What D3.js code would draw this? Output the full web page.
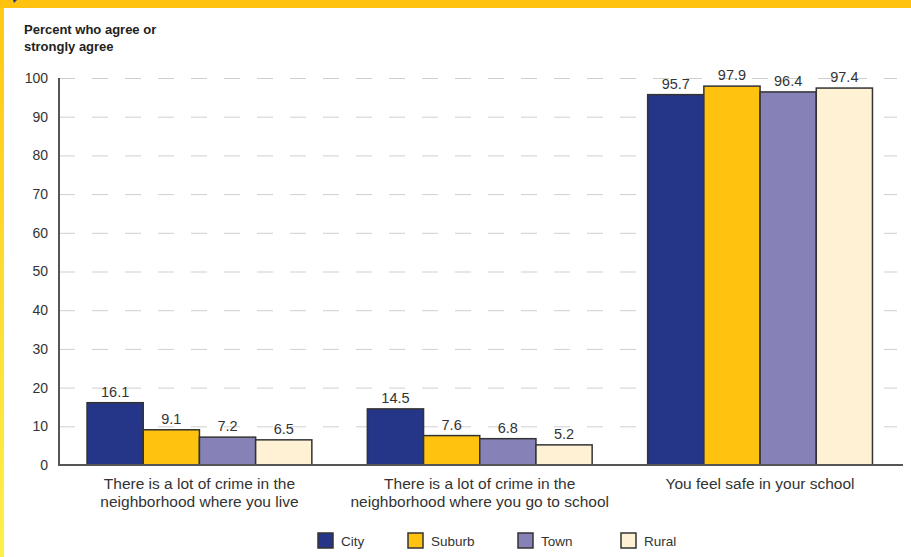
<!DOCTYPE html>
<html><head><meta charset="utf-8">
<script src="https://cdn.jsdelivr.net/npm/d3@7"></script>
<style>
html,body{margin:0;padding:0;background:#fff;}
svg{display:block;font-family:"Liberation Sans",Arial,sans-serif;}
</style></head>
<body>
<script>
const categories = [
  ["There is a lot of crime in the", "neighborhood where you live"],
  ["There is a lot of crime in the", "neighborhood where you go to school"],
  ["You feel safe in your school"]
];
const seriesNames = ["City", "Suburb", "Town", "Rural"];
const city   = [16.1, 14.5, 95.7];
const suburb = [9.1, 7.6, 97.9];
const town   = [7.2, 6.8, 96.4];
const rural  = [6.5, 5.2, 97.4];
const yTicks = [0,10,20,30,40,50,60,70,80,90,100];
const colors = ["#253688", "#FFC20E", "#8682B8", "#FFF2D4"];

const seriesValues = [city, suburb, town, rural];
const W = 911, H = 557;
const svg = d3.select("body").append("svg").attr("width", W).attr("height", H);

// frame
const grad = svg.append("defs").append("linearGradient").attr("id","lg").attr("x1",0).attr("y1",0).attr("x2",0).attr("y2",1);
grad.append("stop").attr("offset","0%").attr("stop-color","#FFC814");
grad.append("stop").attr("offset","100%").attr("stop-color","#FFF04A");
svg.append("rect").attr("x",0).attr("y",0).attr("width",4).attr("height",H).attr("fill","url(#lg)");
svg.append("rect").attr("x",0).attr("y",0).attr("width",W).attr("height",8).attr("fill","#FFC20E");
svg.append("path").attr("d","M13,0 L17,0 L14,3 Z").attr("fill","#253688");

const x0 = d3.scaleBand().domain(d3.range(categories.length)).range([59, 900.5]).paddingInner(0.198).paddingOuter(0.1);
const x1 = d3.scaleBand().domain(d3.range(seriesNames.length)).range([0, x0.bandwidth()]);
const y = d3.scaleLinear().domain([0,100]).range([465, 78]);

// gridlines
svg.append("g").selectAll("line").data(yTicks.filter(d=>d>0)).join("line")
  .attr("x1",59).attr("x2",897).attr("y1",d=>y(d)+0.5).attr("y2",d=>y(d)+0.5)
  .attr("stroke","#cfcfcf").attr("stroke-width",1).attr("stroke-dasharray","16,17");

// y axis
const yAxis = d3.axisLeft(y).tickValues(yTicks).tickSize(0).tickPadding(11);
const ga = svg.append("g").attr("transform","translate(59,0)").call(yAxis);
ga.select(".domain").remove();
ga.selectAll("text").attr("font-size","14px").attr("fill","#333").attr("font-family","Liberation Sans, Arial, sans-serif");
svg.append("line").attr("x1",59).attr("x2",59).attr("y1",78).attr("y2",466).attr("stroke","#555").attr("stroke-width",2);

// bars
const groups = svg.append("g").selectAll("g").data(categories).join("g")
  .attr("transform",(d,i)=>`translate(${x0(i)},0)`);
groups.each(function(c,ci){
  const g = d3.select(this);
  seriesValues.forEach((vals,si)=>{
    g.append("rect").attr("x",x1(si)).attr("y",y(vals[ci])).attr("width",x1.bandwidth())
      .attr("height",y(0)-y(vals[ci])).attr("fill",colors[si]).attr("stroke","#333").attr("stroke-width",1.5);
  });
  seriesValues.forEach((vals,si)=>{
    g.append("text").attr("x",x1(si)+x1.bandwidth()/2).attr("y",y(vals[ci])-6)
      .attr("text-anchor","middle").attr("font-size","14.5px").attr("fill","#333").text(vals[ci].toFixed(1));
  });
  const t = g.append("text").attr("text-anchor","middle").attr("font-size","15.5px").attr("fill","#333");
  c.forEach((line,li)=>{
    t.append("tspan").attr("x",x0.bandwidth()/2).attr("y",489+li*18).text(line);
  });
});

// baseline
svg.append("line").attr("x1",58).attr("x2",903).attr("y1",y(0)).attr("y2",y(0)).attr("stroke","#555").attr("stroke-width",2);

// y title
const yt = svg.append("text").attr("font-size","13px").attr("font-weight","bold").attr("fill","#222");
yt.append("tspan").attr("x",24).attr("y",34).text("Percent who agree or");
yt.append("tspan").attr("x",24).attr("y",51).text("strongly agree");

// legend
const legX = [318, 408, 518, 621];
const leg = svg.append("g").selectAll("g").data(seriesNames).join("g")
  .attr("transform",(d,i)=>`translate(${legX[i]},533)`);
leg.append("rect").attr("width",15).attr("height",15).attr("fill",(d,i)=>colors[i]).attr("stroke","#333").attr("stroke-width",1.5);
leg.append("text").attr("x",23).attr("y",12.5).attr("font-size","13.5px").attr("fill","#333").text(d=>d);
</script>
</body></html>
